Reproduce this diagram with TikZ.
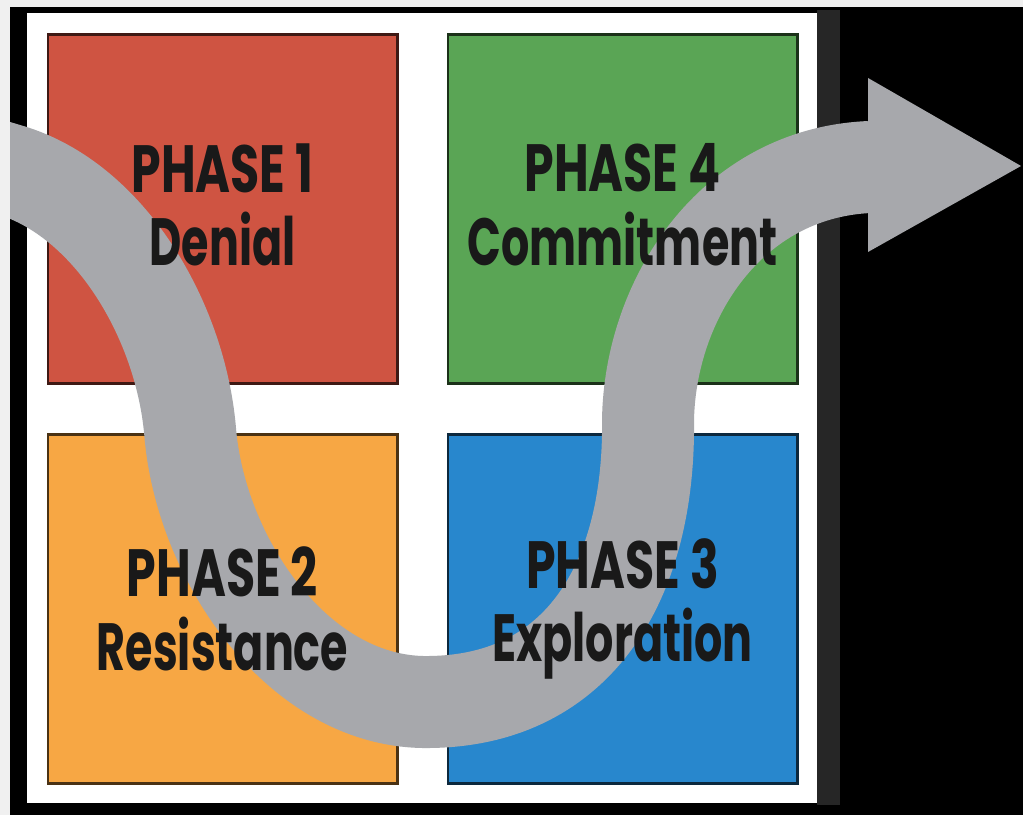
\documentclass[tikz,border=0pt]{standalone}
\usepackage{fontspec}
\setmainfont{Poppins}
\usetikzlibrary{positioning}

\definecolor{denialred}{HTML}{CF5442}
\definecolor{commitgreen}{HTML}{5AA555}
\definecolor{resistorange}{HTML}{F7A744}
\definecolor{explorblue}{HTML}{2887CD}
\definecolor{bandgray}{HTML}{A7A8AC}

\newcommand{\capline}[1]{\scalebox{0.71}[1]{#1}}
\newcommand{\wordline}[1]{\scalebox{0.665}[1]{#1}}

\begin{document}
\begin{tikzpicture}[
	phasebox/.style = { minimum size = 3.49cm, inner sep = 0pt, line width = 0.85pt },
	phasetext/.style = { align = center, text = black!90, inner sep = 0pt,
		font = \fontsize{19}{21}\selectfont\bfseries },
	band/.style = { bandgray, line width = 0.92cm, line cap = butt }
	]
	\useasboundingbox (0,0) rectangle (10.23,8.15);
	\fill [ black!6 ] (0,0) rectangle (10.23,8.15);
	\fill [ black ] (0.10,0) rectangle (10.23,8.08);
	\fill [ black!85 ] (8.17,0.10) rectangle (8.40,8.05);
	\fill [ white ] (0.27,0.12) rectangle (8.17,8.02);

	\node [ phasebox, fill = denialred, draw = denialred!30!black ] (p1) at (2.225,6.06) {};
	\node [ phasebox, fill = commitgreen, draw = commitgreen!30!black ] (p4) [ right = 0.48cm of p1 ] {};
	\node [ phasebox, fill = resistorange, draw = resistorange!30!black ] (p2) [ below = 0.48cm of p1 ] {};
	\node [ phasebox, fill = explorblue, draw = explorblue!30!black ] (p3) [ below = 0.48cm of p4 ] {};

	\coordinate (start) at (-0.25,6.555);
	\coordinate (in) at (0.10,6.45);
	\coordinate (down) at (1.90,3.85);
	\coordinate (bottom) at (4.30,1.13);
	\coordinate (up) at (6.48,3.95);
	\coordinate (out) at (8.70,6.48);
	\coordinate (headtop) at (8.68,7.37);
	\coordinate (tip) at (10.21,6.49);
	\coordinate (headbot) at (8.68,5.63);

	\begin{scope}
		\clip (0.10,0) rectangle (10.23,8.15);
		\draw [ band ] (start) -- (in)
			.. controls (1.10,6.15) and (1.80,4.95) .. (down)
			.. controls (2.00,2.55) and (3.00,1.10) .. (bottom)
			.. controls (5.80,1.15) and (6.50,2.35) .. (up)
			.. controls (6.50,5.15) and (7.30,6.42) .. (out);
	\end{scope}
	\fill [ bandgray ] (headtop) -- (tip) -- (headbot) -- cycle;

	\node [ phasetext, yshift = 0.04cm ] (denial) at (p1) { \capline{PHASE 1} \\ \wordline{Denial} };
	\node [ phasetext, yshift = 0.04cm ] (commit) at (p4) { \capline{PHASE 4} \\ \wordline{Commitment} };
	\node [ phasetext ] (resist) at (p2) { \capline{PHASE 2} \\ \wordline{Resistance} };
	\node [ phasetext ] (explore) at (p3) { \capline{PHASE 3} \\ \wordline{Exploration} };
\end{tikzpicture}
\end{document}
